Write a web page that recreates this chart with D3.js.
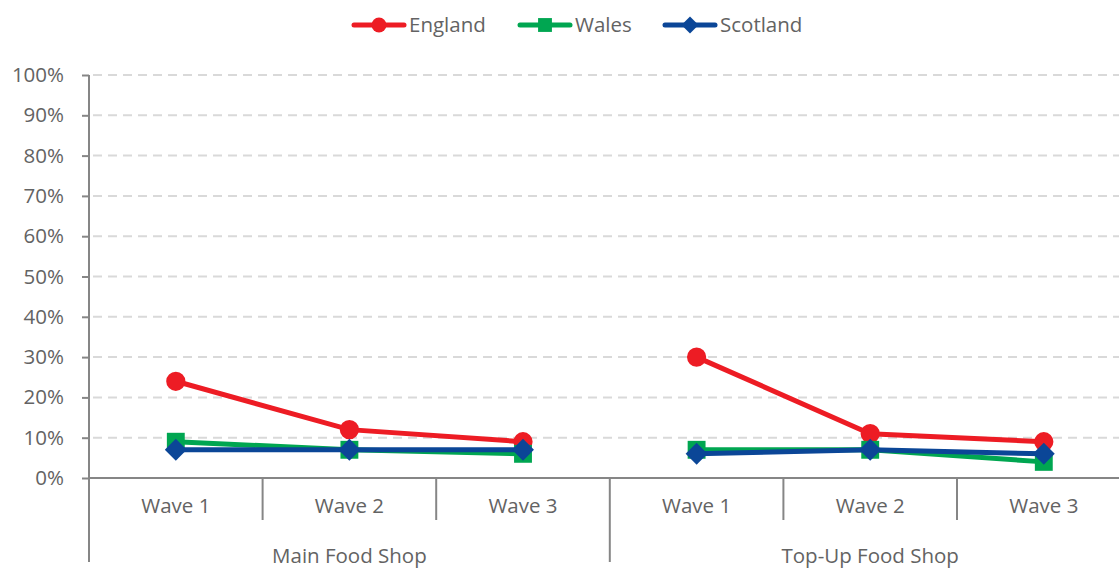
<!DOCTYPE html>
<meta charset="utf-8">
<title>Food shop waves</title>
<style>
  body { margin: 0; background: #fff; }
  text { font-family: "Open Sans", sans-serif; fill: #636363; }
</style>
<body>
<script src="https://d3js.org/d3.v7.min.js"></script>
<script>

var width = 1119,
    height = 568;

// data
var groups = ["Main Food Shop", "Top-Up Food Shop"];
var waves = ["Wave 1", "Wave 2", "Wave 3"];
var seriesNames = ["England", "Wales", "Scotland"];
var england = [24, 12, 9, 30, 11, 9];
var wales = [9, 7, 6, 7, 7, 4];
var scotland = [7, 7, 7, 6, 7, 6];
var yTicks = [0, 10, 20, 30, 40, 50, 60, 70, 80, 90, 100];

var colors = {England: "#ed1c24", Wales: "#00a651", Scotland: "#0b4697"};
var shapes = {England: d3.symbolCircle, Wales: d3.symbolSquare, Scotland: d3.symbolSquare};
var rotate = {England: 0, Wales: 0, Scotland: 45};
var sizes = {England: 290, Wales: 320, Scotland: 240};

var cats = [];
groups.forEach(function(g) {
  waves.forEach(function(w) { cats.push(g + "|" + w); });
});

var series = [
  {name: "England", values: england},
  {name: "Wales", values: wales},
  {name: "Scotland", values: scotland}
];

var margin = {left: 89, top: 75, bottom: 478};
var bandW = 173.6;
var fontSize = "20.5px";

var x = d3.scaleBand()
    .domain(cats)
    .range([margin.left, margin.left + bandW * cats.length]);

var y = d3.scaleLinear()
    .domain([0, 100])
    .range([margin.bottom, margin.top]);

var svg = d3.select("body").append("svg")
    .attr("width", width)
    .attr("height", height);

// gridlines
svg.append("g").selectAll("line")
    .data(yTicks.slice(1))
  .enter().append("line")
    .attr("x1", margin.left + 4)
    .attr("x2", width)
    .attr("y1", function(d) { return y(d); })
    .attr("y2", function(d) { return y(d); })
    .attr("stroke", "#d9d9d9")
    .attr("stroke-width", 2)
    .attr("stroke-dasharray", "9,6");

// y axis
var yAxis = svg.append("g")
    .attr("transform", "translate(" + margin.left + ",0)")
    .call(d3.axisLeft(y).tickValues(yTicks).tickSize(7).tickPadding(18)
      .tickFormat(function(d) { return d + "%"; }));
yAxis.select(".domain").remove();
yAxis.selectAll(".tick line").attr("stroke", "#868686").attr("stroke-width", 2);
yAxis.selectAll("text").style("font-size", fontSize).attr("fill", "#636363");

// axis lines
svg.append("line")
    .attr("x1", margin.left).attr("x2", margin.left)
    .attr("y1", margin.top).attr("y2", 562)
    .attr("stroke", "#868686").attr("stroke-width", 2);
svg.append("line")
    .attr("x1", margin.left).attr("x2", width)
    .attr("y1", y(0)).attr("y2", y(0))
    .attr("stroke", "#868686").attr("stroke-width", 2);

// category separators
var seps = svg.append("g");
cats.forEach(function(c, i) {
  if (i === 0) return;
  var long = i % waves.length === 0;
  seps.append("line")
      .attr("x1", x(c)).attr("x2", x(c))
      .attr("y1", y(0)).attr("y2", long ? 562 : 520)
      .attr("stroke", "#868686").attr("stroke-width", 2);
});

// wave labels
svg.append("g").selectAll("text")
    .data(cats)
  .enter().append("text")
    .attr("x", function(d) { return x(d) + x.bandwidth() / 2; })
    .attr("y", 513)
    .attr("text-anchor", "middle")
    .style("font-size", fontSize)
    .text(function(d) { return d.split("|")[1]; });

// group labels
svg.append("g").selectAll("text")
    .data(groups)
  .enter().append("text")
    .attr("x", function(g) {
      return x(g + "|" + waves[1]) + x.bandwidth() / 2;
    })
    .attr("y", 563)
    .attr("text-anchor", "middle")
    .style("font-size", fontSize)
    .text(function(g) { return g; });

// lines
var line = d3.line()
    .x(function(d) { return x(d.cat) + x.bandwidth() / 2; })
    .y(function(d) { return y(d.v); });

series.forEach(function(s) {
  var g = svg.append("g");
  groups.forEach(function(gr, gi) {
    var pts = waves.map(function(w, wi) {
      return {cat: gr + "|" + w, v: s.values[gi * waves.length + wi]};
    });
    g.append("path")
        .attr("d", line(pts))
        .attr("fill", "none")
        .attr("stroke", colors[s.name])
        .attr("stroke-width", 5);
    g.selectAll(null)
        .data(pts)
      .enter().append("path")
        .attr("transform", function(d) {
          return "translate(" + (x(d.cat) + x.bandwidth() / 2) + "," + y(d.v) + ") rotate(" + rotate[s.name] + ")";
        })
        .attr("d", d3.symbol().type(shapes[s.name]).size(sizes[s.name]))
        .attr("fill", colors[s.name]);
  });
});

// legend
var legendX = [352, 518, 663];
var legend = svg.append("g");
series.forEach(function(s, i) {
  var lg = legend.append("g").attr("transform", "translate(" + legendX[i] + ",25)");
  lg.append("line")
      .attr("x1", 2).attr("x2", 52)
      .attr("stroke", colors[s.name])
      .attr("stroke-width", 5)
      .attr("stroke-linecap", "round");
  lg.append("path")
      .attr("transform", "translate(27,0) rotate(" + rotate[s.name] + ")")
      .attr("d", d3.symbol().type(shapes[s.name]).size(sizes[s.name] * 0.6))
      .attr("fill", colors[s.name]);
  lg.append("text")
      .attr("x", 57)
      .attr("y", 7)
      .style("font-size", fontSize)
      .text(s.name);
});

</script>
